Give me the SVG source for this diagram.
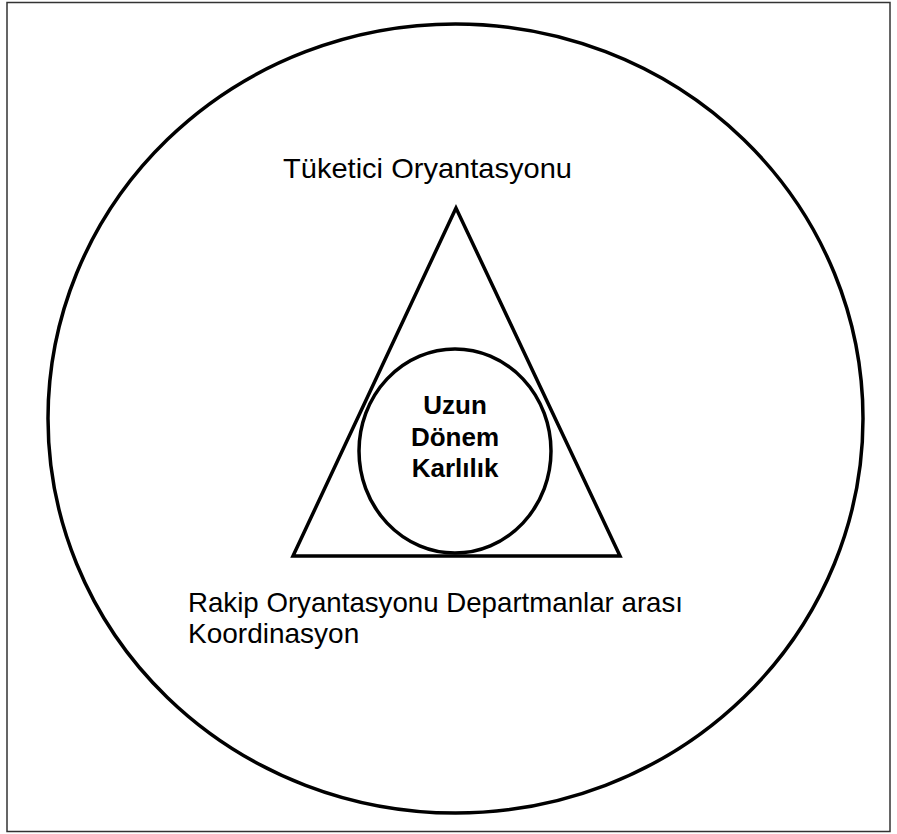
<svg xmlns="http://www.w3.org/2000/svg" width="897" height="834" viewBox="0 0 897 834">
  <style>
    .shape { fill: none; stroke: #000; stroke-width: 3.5; }
    .label { font-family: "Liberation Sans", Arial, sans-serif; font-size: 28px; fill: #000; }
    .core { font-family: "Liberation Sans", Arial, sans-serif; font-size: 26px; font-weight: bold; fill: #000; text-anchor: middle; }
  </style>
  <rect width="897" height="834" fill="#fff"/>
  <!-- frame -->
  <rect x="7" y="2.5" width="883" height="829" fill="none" stroke="#333" stroke-width="1.5"/>

  <g id="outer-circle">
    <ellipse class="shape" cx="455.5" cy="418.5" rx="407.5" ry="394.5"/>
  </g>

  <g id="triangle">
    <polygon class="shape" points="456,208 293,556 620,556" stroke-linejoin="miter"/>
  </g>

  <g id="core">
    <ellipse class="shape" cx="455" cy="451" rx="96" ry="102"/>
    <text class="core" x="455" y="414">Uzun</text>
    <text class="core" x="455" y="446">Dönem</text>
    <text class="core" x="455" y="477">Karlılık</text>
  </g>

  <g id="label-top">
    <text class="label" x="283" y="178" textLength="289" lengthAdjust="spacingAndGlyphs">Tüketici Oryantasyonu</text>
  </g>

  <g id="label-bottom">
    <text class="label" x="188" y="612" textLength="495" lengthAdjust="spacingAndGlyphs">Rakip Oryantasyonu Departmanlar arası</text>
    <text class="label" x="188" y="643">Koordinasyon</text>
  </g>
</svg>
